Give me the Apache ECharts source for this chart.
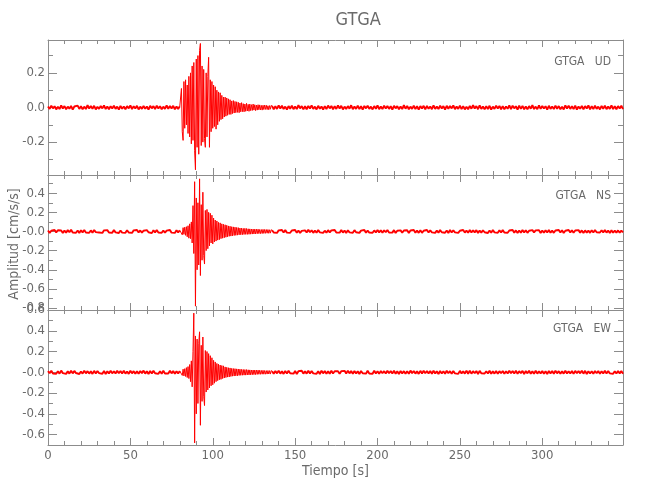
<!DOCTYPE html>
<html><head><meta charset="utf-8">
<script src="https://cdn.jsdelivr.net/npm/echarts@6/dist/echarts.min.js"></script>
<style>html,body{margin:0;padding:0;background:#fff}#c{width:650px;height:500px}</style>
</head><body><div id="c"></div><script>
// ---- data (amplitudes in 0.001 cm/s/s) ----
const stationName = 'GTGA';
const componentNames = ['UD', 'NS', 'EW'];
const xTitle = 'Tiempo [s]';
const yTitle = 'Amplitud [cm/s/s]';
const timeMax = 349;
const preStep = 1, eventStart = 81, eventStep = 0.5, postStart = 136, postStep = 1;
const yRanges = [[-0.39, 0.39], [-0.82, 0.59], [-0.7, 0.6]];
const ySplits = [4, 7, 6];
const zeroLabels = ['0.0', '-0.0', '-0.0'];

const udPre = [6,-8,10,-5,7,-11,4,-9,12,-6, 8,-10,5,-7,9,-12,6,-4,11,-8, 7,-10,5,-9,13,-6,8,-7,10,-11,
 4,-8,9,-5,12,-9,6,-10,7,-6, 11,-8,5,-12,9,-7,6,-10,8,-5, 12,-9,7,-6,10,-11,5,-8,9,-7,
 6,-12,10,-5,8,-9,11,-6,7,-10, 5,-8,12,-7,9,-6,10,-11,6,-8, 7];
const udEvent = [110,-140,-190,150,-120,160,-100,130,-150,180, -170,200,-210,240,-190,260,-250,-360,280,-230,
 300,-270,330,370,-220,240,-200,220,-180,-230, 200,-170,180,290,-230,160,-140,150,-120,130,
 -110,120,-125,100,-100,90,-80,85,-70,70, -65,60,-55,60,-50,55,-45,50,-40,45,
 -40,38,-35,40,-32,35,-30,33,-28,30, -30,26,-25,28,-24,22,-25,20,-22,24,
 -20,18,-22,20,-18,16,-17,20,-15,16, -18,14,-15,16,-13,15,-14,12,-15,13,
 -12,14,-11,13,-12,10,-13,11,-10,12];
const udPost = [9,-11,7,-8,12,-6,10,-9,5,-12, 8,-7,11,-10,6,-9,13,-5,8,-11, 7,-10,9,-6,12,-8,5,-11,10,-7,
 6,-12,8,-9,11,-5,9,-10,7,-8, 12,-6,10,-11,5,-9,8,-7,13,-10, 6,-8,11,-9,7,-12,9,-5,10,-8,
 5,-11,8,-7,12,-10,6,-9,11,-6, 9,-8,7,-12,10,-5,8,-11,6,-9, 13,-7,9,-10,5,-8,11,-9,7,-12,
 8,-6,10,-11,9,-7,6,-10,12,-8, 5,-9,11,-6,8,-12,10,-7,9,-5, 12,-10,6,-8,11,-9,7,-11,5,-10,
 9,-7,13,-6,8,-10,12,-8,6,-11, 7,-9,10,-12,5,-8,11,-6,9,-10, 8,-11,6,-7,12,-9,10,-5,7,-12,
 11,-8,9,-10,6,-11,8,-7,13,-9, 5,-10,12,-8,9,-6,7,-12,10,-8, 6,-9,11,-7,8,-10,5,-11,12,-6,
 10,-8,7,-9,11,-12,6,-7,9,-10, 8,-6,12,-11,7,-9,10,-8,5,-11, 9,-7,11,-10,6,-8,12,-9,7,-10, 8,-6,10,-9];

const nsPre = [10,-14,8,-12,16,-9,13,-7,11,-15, 9,-12,14,-8,17,-11,7,-13,10,-16, 12,-9,15,-10,8,-14,11,-12,16,-7,
 13,-11,9,-15,12,-8,14,-10,7,-13, 15,-9,11,-16,10,-12,8,-14,13,-11, 9,-15,12,-7,16,-10,11,-13,8,-12,
 14,-8,10,-17,12,-9,15,-11,7,-14, 11,-13,9,-10,16,-12,8,-15,13,-9, 12];
const nsEvent = [30,-35,40,-30,45,-40,50,-55,60,-70, 80,-75,100,-120,270,-230,520,-780,350,-400,
 300,-350,550,-460,280,-300,410,-250,-340,220, -200,230,-180,200,-150,190,-120,170,-130,140,
 -110,120,-100,110,-90,95,-85,90,-75,80, -70,75,-65,70,-60,65,-55,58,-50,55,
 -48,50,-45,48,-42,45,-40,42,-38,40, -35,36,-34,35,-33,32,-31,33,-30,31,
 -30,28,-29,27,-28,26,-27,25,-26,25, -25,24,-23,24,-22,21,-22,20,-21,22,
 -20,21,-19,20,-18,20,-19,18,-17,18];
const nsPost = [13,-11,9,-15,12,-8,16,-10,14,-12, 8,-14,11,-9,15,-13,10,-16,7,-11, 12,-10,17,-8,13,-14,9,-12,15,-9,
 11,-15,8,-13,14,-10,12,-7,16,-11, 9,-12,15,-11,10,-16,13,-9,8,-14, 14,-8,12,-15,9,-11,16,-13,10,-12,
 7,-13,11,-10,15,-9,12,-14,13,-8, 16,-11,9,-12,14,-15,8,-10,12,-13, 10,-9,13,-16,11,-8,15,-12,9,-14,
 12,-14,8,-11,16,-10,13,-9,11,-15, 9,-12,14,-8,12,-13,10,-16,15,-10, 13,-9,11,-14,8,-12,16,-11,10,-13,
 15,-10,12,-9,14,-15,9,-12,13,-8, 8,-16,10,-12,15,-9,11,-14,12,-11, 14,-11,9,-13,10,-8,16,-12,11,-15,
 10,-13,15,-10,12,-14,8,-11,14,-9, 12,-8,13,-15,9,-12,11,-10,16,-13, 9,-14,11,-9,15,-11,13,-16,8,-12,
 16,-10,12,-13,10,-9,14,-12,11,-15, 11,-12,9,-14,13,-10,15,-8,12,-11, 13,-9,14,-11,10,-15,12,-13,9,-12, 11,-13,10,-9];

const ewPre = [12,-9,15,-11,8,-14,10,-13,16,-8, 11,-15,9,-12,14,-10,13,-7,12,-16, 8,-13,16,-10,11,-12,9,-15,14,-11,
 13,-8,10,-14,12,-16,9,-11,15,-10, 10,-12,14,-9,13,-11,16,-13,8,-15, 15,-10,11,-13,9,-14,12,-8,16,-12,
 9,-16,13,-11,14,-9,10,-15,11,-13, 14,-11,8,-12,15,-10,13,-14,9,-11, 12];
const ewEvent = [25,-30,30,-35,35,-40,45,-50,55,-60, 75,-90,110,-140,200,570,-680,350,-400,320,
 -300,280,390,-510,260,-280,340,-230,-320,210, -190,200,-170,180,-150,160,-130,140,-120,115,
 -105,100,-90,85,-80,78,-72,70,-68,65, -60,62,-55,52,-50,48,-46,44,-45,42,
 -40,38,-37,36,-36,35,-34,33,-33,32, -30,30,-29,28,-28,27,-27,26,-27,26,
 -25,24,-25,23,-24,22,-23,22,-22,22, -22,21,-20,21,-19,20,-19,18,-18,19,
 -18,17,-18,16,-17,17,-16,16,-17,16];
const ewPost = [11,-14,13,-10,16,-12,9,-15,12,-11, 14,-9,10,-13,12,-16,11,-8,15,-12, 9,-12,15,-11,13,-10,8,-14,11,-16,
 16,-10,12,-14,9,-13,14,-11,10,-9, 10,-15,11,-8,14,-12,16,-10,13,-14, 13,-11,9,-16,12,-9,10,-13,15,-11,
 8,-14,16,-12,10,-15,13,-9,11,-12, 15,-9,12,-11,14,-13,9,-16,12,-10, 11,-13,10,-14,16,-8,13,-12,9,-15,
 14,-12,15,-9,11,-10,12,-14,16,-11, 9,-16,13,-12,10,-14,15,-9,11,-13, 12,-10,8,-15,14,-11,9,-12,16,-14,
 16,-13,11,-9,12,-16,14,-10,8,-12, 10,-11,15,-14,9,-12,13,-15,11,-9, 13,-15,10,-12,16,-9,12,-11,14,-13,
 11,-9,14,-16,12,-10,15,-13,9,-14, 15,-12,9,-11,13,-14,10,-16,12,-10, 12,-14,16,-10,11,-13,9,-12,15,-11,
 9,-11,13,-15,14,-9,12,-10,16,-13, 14,-16,11,-12,10,-14,13,-9,12,-15, 10,-12,15,-11,13,-10,9,-14,11,-12, 13,-10,12,-14];

// ---- build ----
function toPts(arr, start, step) { return arr.map((v, i) => [start + i * step, v / 1000]); }
const traceSets = [[udPre, udEvent, udPost], [nsPre, nsEvent, nsPost], [ewPre, ewEvent, ewPost]];

const FONT = "'Liberation Sans Narrow', 'DejaVu Sans Condensed', 'Liberation Sans', sans-serif";
const TXT = '#6a6a6a';
const AX = '#8c8c8c';
const gridTops = [40, 175, 310];
const gridH = 135;

const grids = [], xAxes = [], yAxes = [], series = [];
for (let i = 0; i < 3; i++) {
  grids.push({ left: 48, right: 27, top: gridTops[i], height: gridH });
  ['bottom', 'top'].forEach(pos => {
    xAxes.push({
      type: 'value', gridIndex: i, position: pos, min: 0, max: timeMax, interval: 50,
      axisLine: { show: true, onZero: false, lineStyle: { color: AX, width: 1 } },
      axisTick: { show: true, inside: true, length: 7, lineStyle: { color: AX } },
      minorTick: { show: true, splitNumber: 5, length: 4, lineStyle: { color: AX } },
      splitLine: { show: false },
      axisLabel: { show: (i === 2 && pos === 'bottom'), showMaxLabel: false, color: TXT, fontFamily: FONT, fontSize: 13, margin: 4 }
    });
  });
  ['left', 'right'].forEach(pos => {
    yAxes.push({
      type: 'value', gridIndex: i, position: pos, min: yRanges[i][0], max: yRanges[i][1], splitNumber: ySplits[i],
      axisLine: { show: true, onZero: false, lineStyle: { color: AX, width: 1 } },
      axisTick: { show: true, inside: true, length: 9, lineStyle: { color: AX } },
      minorTick: { show: true, splitNumber: 2, length: 5, lineStyle: { color: AX } },
      splitLine: { show: false },
      axisLabel: {
        show: pos === 'left', showMinLabel: false, showMaxLabel: i === 2,
        color: TXT, fontFamily: FONT, fontSize: 13, margin: 3,
        formatter: v => Math.abs(v) < 1e-9 ? zeroLabels[i] : (v < 0 ? '-' : '') + Math.abs(v).toFixed(1)
      }
    });
  });
  const [pre, ev, post] = traceSets[i];
  const prePts = toPts(pre, 0, preStep);
  const evPts = toPts(ev, eventStart, eventStep);
  const postPts = toPts(post, postStart, postStep);
  series.push({
    type: 'line', name: componentNames[i] + ' noise', xAxisIndex: i * 2, yAxisIndex: i * 2,
    data: prePts.concat([[eventStart, null]], postPts), connectNulls: false,
    showSymbol: false, symbol: 'none', sampling: false,
    lineStyle: { color: '#ff0000', width: 1.9 }, clip: true
  });
  series.push({
    type: 'line', name: componentNames[i], xAxisIndex: i * 2, yAxisIndex: i * 2,
    data: [prePts[prePts.length - 1]].concat(evPts, [postPts[0]]),
    showSymbol: false, symbol: 'none', sampling: false,
    lineStyle: { color: '#ff0000', width: 1.0 }, clip: true
  });
}

const graphics = [
  { type: 'text', left: 335.5, top: 11, style: { text: stationName, fill: TXT, font: '18px ' + FONT, textAlign: 'center' } },
  { type: 'text', x: 335.5, y: 464, style: { text: xTitle, fill: TXT, font: '14px ' + FONT, textAlign: 'center' } },
  { type: 'text', x: 14, y: 244, rotation: Math.PI / 2, style: { text: yTitle, fill: TXT, font: '14px ' + FONT, textAlign: 'center', textVerticalAlign: 'middle' } }
];
const labelY = [62, 196, 329];
for (let i = 0; i < 3; i++) {
  graphics.push({ type: 'text', x: 611, y: labelY[i], style: { text: stationName + '   ' + componentNames[i], fill: TXT, font: '12px ' + FONT, textAlign: 'right', textVerticalAlign: 'middle' } });
}

const chart = echarts.init(document.getElementById('c'), null, { renderer: 'canvas' });
chart.setOption({
  animation: false, backgroundColor: '#fff',
  grid: grids, xAxis: xAxes, yAxis: yAxes, series: series, graphic: graphics
});
</script></body></html>
